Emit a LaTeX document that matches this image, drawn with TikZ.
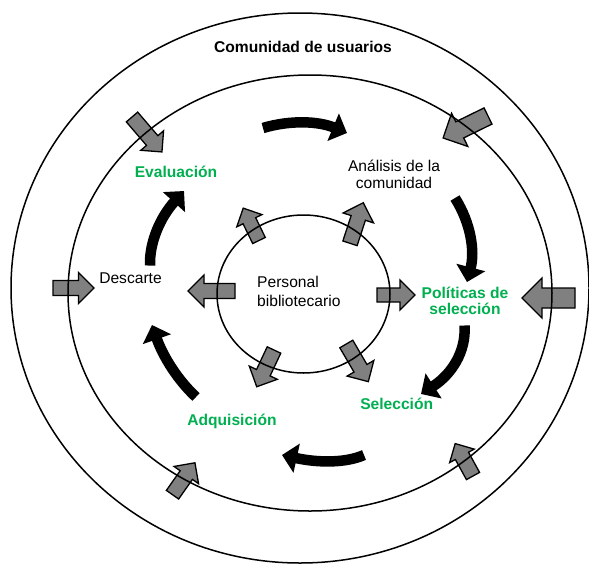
\documentclass[tikz,border=0pt]{standalone}
\usepackage{fontspec}
\setmainfont{Liberation Sans}
\usetikzlibrary{arrows.meta,shapes.geometric}
\definecolor{tgreen}{RGB}{0,176,80}
\definecolor{tgray}{RGB}{128,128,128}
\tikzset{
  ring/.style={draw, ellipse, line width=1.5pt, inner sep=0pt},
  grayarrow/.style={fill=tgray, draw=black, line width=1.3pt, line join=miter},
  flow/.style={line width=10.5pt, -{Triangle[width=29pt,length=15pt]}},
  lbl/.style={inner sep=0pt, font=\fontsize{15.6}{17}\selectfont},
  glbl/.style={lbl, font=\fontsize{15.6}{17}\selectfont\bfseries, text=tgreen},
}
% name, x, y, angle, length, shaft, head
\newcommand\garr[7]{%
  \pgfmathsetmacro\gL{#5}\pgfmathsetmacro\gS{#6/2}%
  \pgfmathsetmacro\gH{#7/2}\pgfmathsetmacro\gB{#5-#7/2}%
  \draw[grayarrow,shift={(#2,#3)},rotate=#4] (0,-\gS) -- (\gB,-\gS) -- (\gB,-\gH)
    -- (\gL,0) -- (\gB,\gH) -- (\gB,\gS) -- (0,\gS) -- cycle;}
\begin{document}
\begin{tikzpicture}[x=1pt,y=-1pt]
\useasboundingbox (0,0) rectangle (589,565);
\fill[white] (0,0) rectangle (589,565);

% gray block arrows (outer ring)
\garr{A}{132}{117}{-49.4}{46}{15}{30}
\garr{B}{488}{116}{-153.9}{50}{18}{37}
\garr{C}{53}{288}{0}{41}{15}{31}
\garr{D}{575}{298}{180}{53}{20}{40}
\garr{E}{172.5}{494.7}{54.9}{39}{15}{30}
\garr{F}{473}{476}{118.8}{37}{15}{28}
% gray block arrows (inner ring)
\garr{G}{259}{240.5}{116}{36}{14}{28}
\garr{H}{350}{243.3}{71.9}{42.7}{15}{32}
\garr{I}{235}{291}{180}{47}{15}{32}
\garr{J}{377}{295}{0}{38}{14}{30}
\garr{K}{274}{350}{-115.2}{40.6}{15}{31}
\garr{L}{346.3}{344}{-59.7}{43.6}{15}{31}

% rings
\node[ring, minimum width=578pt, minimum height=550pt] (outer) at (300,288) {};
\node[ring, minimum width=484pt, minimum height=436pt] (middle) at (310,293) {};
\node[ring, minimum width=173pt, minimum height=158pt] (inner) at (303.5,294) {};

% labels
\node[lbl, font=\fontsize{15.6}{17}\selectfont\bfseries, anchor=base] (title) at (303,52) {Comunidad de usuarios};
\node[glbl, anchor=base] (eval) at (176,177) {Evaluación};
\node[lbl, anchor=base] (anal) at (394,171) {\begin{tabular}[t]{@{}c@{}}Análisis de la\\comunidad\end{tabular}};
\node[lbl, anchor=base] (desc) at (130.5,283) {Descarte};
\node[lbl, font=\fontsize{15.6}{19.5}\selectfont, anchor=base west] (pers) at (257,287) {\begin{tabular}[t]{@{}l@{}}Personal\\bibliotecario\end{tabular}};
\node[glbl, font=\fontsize{15.6}{15.5}\selectfont\bfseries, anchor=base] (pol) at (465,298) {\begin{tabular}[t]{@{}c@{}}Políticas de\\selección\end{tabular}};
\node[glbl, anchor=base] (sel) at (396.7,409) {Selección};
\node[glbl, anchor=base] (adq) at (232,425) {Adquisición};

% black cycle arrows
\coordinate (t1) at (263,128);   \coordinate (h1) at (347,133);
\coordinate (t2) at (455,198);   \coordinate (h2) at (467,282);
\coordinate (t3) at (464.5,325.5); \coordinate (h3) at (421,394);
\coordinate (t4) at (364,455);   \coordinate (h4) at (282,455);
\coordinate (t5) at (196,397);   \coordinate (h5) at (152,325);
\coordinate (t6) at (150,265.5); \coordinate (h6) at (184,191);
\draw[flow] (t1) .. controls (291,119.7) and (319,121.3) .. (h1);
\draw[flow] (t2) .. controls (471,223.3) and (475,251.3) .. (h2);
\draw[flow] (t3) .. controls (466.3,351.3) and (451.8,374.2) .. (h3);
\draw[flow] (t4) .. controls (346,463) and (318.7,463) .. (h4);
\draw[flow] (t5) .. controls (177.3,379.7) and (162.7,355.7) .. (h5);
\draw[flow] (t6) .. controls (149.3,241.7) and (160.7,216.8) .. (h6);
\end{tikzpicture}
\end{document}
